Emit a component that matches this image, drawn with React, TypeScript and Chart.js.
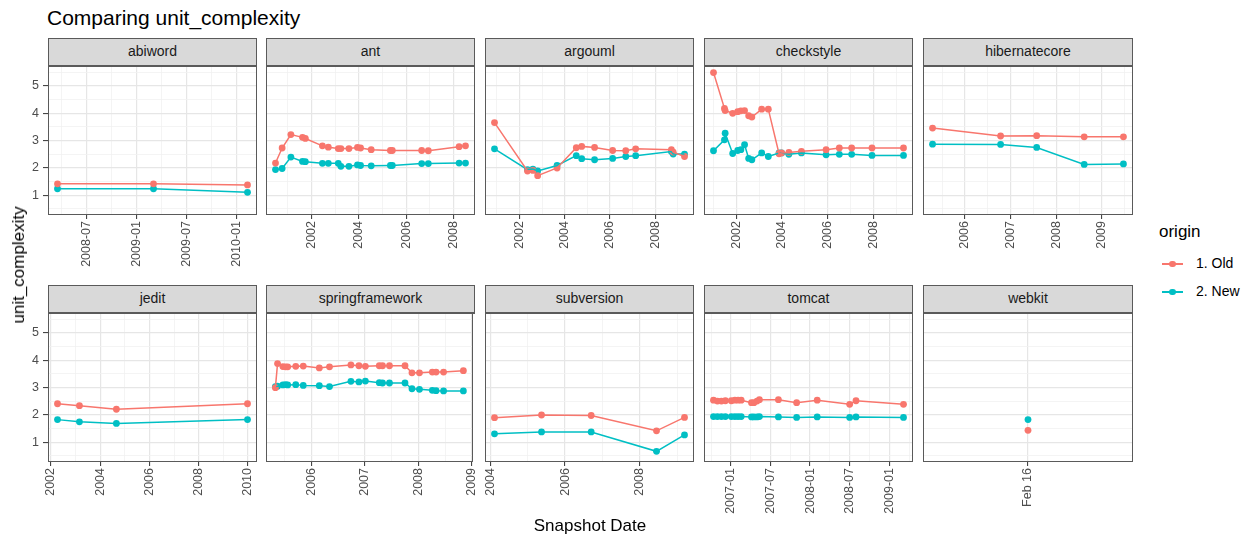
import React, { useEffect, useRef } from "react";
import { Chart, registerables } from "chart.js";

Chart.register(...registerables);

const FONT = '"Liberation Sans", Arial, Helvetica, sans-serif';
const RED = "#F8766D";
const TEAL = "#00BFC4";

// ---------- data (dates as decimal years) ----------
const projects = ["abiword", "ant", "argouml", "checkstyle", "hibernatecore", "jedit", "springframework", "subversion", "tomcat", "webkit"];
const seriesNames = ["1. Old", "2. New"];

const abiwordDates = [2008.21, 2009.17, 2010.11];
const abiwordOld = [1.42, 1.42, 1.38];
const abiwordNew = [1.24, 1.24, 1.11];
const abiwordTicks = ["2008-07", "2009-01", "2009-07", "2010-01"];

const antDates = [2000.48, 2000.76, 2001.13, 2001.62, 2001.74, 2002.46, 2002.71, 2003.13, 2003.24, 2003.58, 2003.94, 2004.07, 2004.52, 2005.33, 2005.41, 2006.65, 2006.93, 2008.23, 2008.5];
const antOld = [2.18, 2.73, 3.22, 3.12, 3.08, 2.81, 2.76, 2.71, 2.71, 2.71, 2.75, 2.73, 2.67, 2.64, 2.64, 2.64, 2.63, 2.78, 2.81];
const antNew = [1.94, 1.98, 2.4, 2.24, 2.23, 2.17, 2.17, 2.17, 2.06, 2.06, 2.11, 2.09, 2.08, 2.09, 2.09, 2.16, 2.16, 2.18, 2.18];
const antTicks = ["2002", "2004", "2006", "2008"];

const argoumlDates = [2000.89, 2002.35, 2002.59, 2002.8, 2003.66, 2004.51, 2004.75, 2005.32, 2006.12, 2006.7, 2007.14, 2008.72, 2008.8, 2009.3];
const argoumlOld = [3.66, 1.89, 1.91, 1.72, 2.0, 2.74, 2.79, 2.75, 2.64, 2.63, 2.7, 2.67, 2.58, 2.42];
const argoumlNew = [2.7, 1.94, 1.96, 1.89, 2.09, 2.45, 2.34, 2.3, 2.35, 2.42, 2.45, 2.6, 2.51, 2.51];
const argoumlTicks = ["2002", "2004", "2006", "2008"];

const checkstyleDates = [2001.0, 2001.48, 2001.51, 2001.84, 2002.06, 2002.2, 2002.36, 2002.54, 2002.68, 2003.11, 2003.4, 2003.87, 2003.98, 2004.3, 2004.85, 2005.93, 2006.51, 2007.05, 2007.94, 2009.32];
const checkstyleOld = [5.49, 4.18, 4.1, 4.0, 4.06, 4.09, 4.1, 3.91, 3.86, 4.15, 4.15, 2.52, 2.55, 2.57, 2.61, 2.67, 2.73, 2.73, 2.73, 2.73];
const checkstyleNew = [2.63, 3.03, 3.27, 2.53, 2.64, 2.67, 2.85, 2.35, 2.3, 2.55, 2.42, 2.55, 2.55, 2.5, 2.55, 2.48, 2.5, 2.5, 2.46, 2.46];
const checkstyleTicks = ["2002", "2004", "2006", "2008"];

const hibernateDates = [2005.29, 2006.78, 2007.57, 2008.61, 2009.47];
const hibernateOld = [3.46, 3.17, 3.18, 3.14, 3.14];
const hibernateNew = [2.87, 2.86, 2.75, 2.13, 2.15];
const hibernateTicks = ["2006", "2007", "2008", "2009"];

const jeditDates = [2002.27, 2003.16, 2004.66, 2009.98];
const jeditOld = [2.41, 2.34, 2.21, 2.41];
const jeditNew = [1.83, 1.75, 1.69, 1.83];
const jeditTicks = ["2002", "2004", "2006", "2008", "2010"];

const springDates = [2005.33, 2005.37, 2005.47, 2005.52, 2005.56, 2005.71, 2005.85, 2006.15, 2006.34, 2006.74, 2006.89, 2007.01, 2007.27, 2007.33, 2007.46, 2007.75, 2007.88, 2008.02, 2008.26, 2008.33, 2008.47, 2008.84];
const springOld = [3.0, 3.88, 3.77, 3.76, 3.76, 3.78, 3.79, 3.72, 3.76, 3.83, 3.8, 3.78, 3.8, 3.8, 3.8, 3.8, 3.54, 3.54, 3.57, 3.57, 3.57, 3.62];
const springNew = [3.04, 3.05, 3.1, 3.11, 3.1, 3.11, 3.08, 3.07, 3.04, 3.23, 3.21, 3.24, 3.18, 3.17, 3.17, 3.17, 2.96, 2.94, 2.9, 2.89, 2.88, 2.88];
const springTicks = ["2006", "2007", "2008", "2009"];

const subversionDates = [2004.11, 2005.37, 2006.7, 2008.45, 2009.2];
const subversionOld = [1.9, 2.0, 1.98, 1.42, 1.91];
const subversionNew = [1.31, 1.38, 1.38, 0.67, 1.27];
const subversionTicks = ["2004", "2006", "2008"];

const tomcatDates = [2006.78, 2006.83, 2006.88, 2006.93, 2007.005, 2007.05, 2007.09, 2007.13, 2007.26, 2007.29, 2007.33, 2007.36, 2007.6, 2007.83, 2008.09, 2008.5, 2008.58, 2009.18];
const tomcatOld = [2.54, 2.51, 2.51, 2.52, 2.52, 2.54, 2.54, 2.54, 2.45, 2.45, 2.51, 2.56, 2.56, 2.45, 2.54, 2.39, 2.52, 2.39];
const tomcatNew = [1.94, 1.94, 1.94, 1.94, 1.94, 1.94, 1.94, 1.94, 1.93, 1.93, 1.93, 1.94, 1.93, 1.91, 1.93, 1.91, 1.93, 1.91];
const tomcatTicks = ["2007-01", "2007-07", "2008-01", "2008-07", "2009-01"];

const webkitDates = [2010.125];
const webkitOld = [1.44];
const webkitNew = [1.83];
const webkitTicks = ["Feb 16"];

const yMajorTicks = [1, 2, 3, 4, 5];
const Y_MIN = 0.28;
const Y_MAX = 5.73;

// ---------- layout ----------
const PANEL_LEFT = [48, 266, 485, 704, 923];
const PANEL_W = [209, 209, 209, 209, 210];
const STRIP_TOP = [38, 285];
const PLOT_TOP = [66, 313];
const PLOT_H = 149;
const PAD_L = 40;
const PAD_R = 14;
const PAD_T = 14;
const X_AXIS_H = 62;
const TICK_FONT = 12.5;

type PanelDef = { name: string; dates: number[]; oldV: number[]; newV: number[]; ticks: string[] };

const panelDefs: PanelDef[] = [
  { name: projects[0], dates: abiwordDates, oldV: abiwordOld, newV: abiwordNew, ticks: abiwordTicks },
  { name: projects[1], dates: antDates, oldV: antOld, newV: antNew, ticks: antTicks },
  { name: projects[2], dates: argoumlDates, oldV: argoumlOld, newV: argoumlNew, ticks: argoumlTicks },
  { name: projects[3], dates: checkstyleDates, oldV: checkstyleOld, newV: checkstyleNew, ticks: checkstyleTicks },
  { name: projects[4], dates: hibernateDates, oldV: hibernateOld, newV: hibernateNew, ticks: hibernateTicks },
  { name: projects[5], dates: jeditDates, oldV: jeditOld, newV: jeditNew, ticks: jeditTicks },
  { name: projects[6], dates: springDates, oldV: springOld, newV: springNew, ticks: springTicks },
  { name: projects[7], dates: subversionDates, oldV: subversionOld, newV: subversionNew, ticks: subversionTicks },
  { name: projects[8], dates: tomcatDates, oldV: tomcatOld, newV: tomcatNew, ticks: tomcatTicks },
  { name: projects[9], dates: webkitDates, oldV: webkitOld, newV: webkitNew, ticks: webkitTicks },
];

function tickValue(label: string, p: PanelDef): number {
  const m = /^(\d{4})(?:-(\d{2}))?$/.exec(label);
  if (m) return +m[1] + (m[2] ? (+m[2] - 1) / 12 : 0);
  return p.dates[0];
}

function xRange(p: PanelDef): [number, number] {
  const lo = Math.min(...p.dates);
  const hi = Math.max(...p.dates);
  if (hi - lo < 1e-9) return [lo - 0.1, hi + 0.1];
  const e = (hi - lo) * 0.05;
  return [lo - e, hi + e];
}

function buildXTicks(p: PanelDef, min: number, max: number) {
  const majors = p.ticks.map((l) => ({ value: tickValue(l, p), lbl: l, minor: false }));
  const minors: { value: number; lbl: string; minor: boolean }[] = [];
  if (majors.length > 1) {
    const step = majors[1].value - majors[0].value;
    let v = majors[0].value - step / 2;
    while (v - step >= min) v -= step;
    for (; v <= max + 1e-9; v += step) if (v >= min) minors.push({ value: v, lbl: "", minor: true });
  }
  return [...majors, ...minors].sort((a, b) => a.value - b.value);
}

const borderPlugin = {
  id: "panelBorder",
  afterDraw(chart: any) {
    const { ctx, chartArea: a } = chart;
    ctx.save();
    ctx.strokeStyle = "#5a5a5a";
    ctx.lineWidth = 1;
    ctx.strokeRect(Math.round(a.left) + 0.5, Math.round(a.top) + 0.5, Math.round(a.right - a.left) - 1, Math.round(a.bottom - a.top) - 1);
    ctx.restore();
  },
};

const gridColor = (ctx: any) => (ctx.tick && ctx.tick.minor ? "#F1F1F1" : "#E6E6E6");
const gridWidth = (ctx: any) => (ctx.tick && ctx.tick.minor ? 0.8 : 1.2);
const tickCol = (ctx: any) => (ctx.tick && ctx.tick.minor ? "rgba(0,0,0,0)" : "#333333");

function PanelChart({ p, col, row }: { p: PanelDef; col: number; row: number }) {
  const ref = useRef<HTMLCanvasElement>(null);
  const width = PAD_L + PANEL_W[col] + PAD_R;
  const height = PAD_T + PLOT_H + X_AXIS_H;
  useEffect(() => {
    const [min, max] = xRange(p);
    const xt = buildXTicks(p, min, max);
    const yt: { value: number; minor: boolean }[] = [];
    for (let v = 0.5; v <= 5.5 + 1e-9; v += 0.5) yt.push({ value: v, minor: !yMajorTicks.includes(v) });
    const pts = (vals: number[]) => p.dates.map((d, i) => ({ x: d, y: vals[i] }));
    const lineDs = (label: string, vals: number[], c: string) => ({
      label, data: pts(vals), borderColor: c, backgroundColor: c, borderWidth: 1.5, pointRadius: 0, tension: 0, showLine: true,
    });
    const pointDs = (label: string, vals: number[], c: string) => ({
      label, data: pts(vals), borderColor: c, backgroundColor: c, pointBackgroundColor: c, pointBorderWidth: 0, pointRadius: 3.4, showLine: false,
    });
    const chart = new Chart(ref.current as HTMLCanvasElement, {
      type: "line",
      data: {
        datasets: [
          lineDs(seriesNames[0], p.oldV, RED),
          lineDs(seriesNames[1], p.newV, TEAL),
          pointDs(seriesNames[0], p.oldV, RED),
          pointDs(seriesNames[1], p.newV, TEAL),
        ] as any,
      },
      options: {
        animation: false,
        responsive: false,
        maintainAspectRatio: false,
        events: [],
        layout: { padding: { left: col === 0 ? 0 : PAD_L, right: PAD_R, top: PAD_T, bottom: 0 } },
        plugins: { legend: { display: false }, tooltip: { enabled: false }, title: { display: false } },
        scales: {
          x: {
            type: "linear",
            min, max,
            bounds: "data",
            afterBuildTicks: (s: any) => { s.ticks = xt.map((t) => ({ ...t })); },
            afterFit: (s: any) => { s.height = X_AXIS_H; },
            ticks: {
              autoSkip: false, minRotation: 90, maxRotation: 90, padding: 2, color: "#4D4D4D",
              font: { family: FONT, size: TICK_FONT },
              callback: (_v: any, i: number, ticks: any[]) => ticks[i].lbl || "",
            },
            grid: { color: gridColor, lineWidth: gridWidth, tickLength: 4, tickColor: tickCol, tickWidth: 1 },
            border: { display: false },
          },
          y: {
            type: "linear",
            position: "left",
            min: Y_MIN, max: Y_MAX,
            bounds: "data",
            afterBuildTicks: (s: any) => { s.ticks = yt.map((t) => ({ ...t })); },
            afterFit: (s: any) => { s.width = col === 0 ? PAD_L : 0; },
            ticks: {
              display: col === 0, autoSkip: false, padding: 4, color: "#4D4D4D",
              font: { family: FONT, size: TICK_FONT },
              callback: (v: any, i: number, ticks: any[]) => (ticks[i].minor ? "" : String(v)),
            },
            grid: { color: gridColor, lineWidth: gridWidth, drawTicks: col === 0, tickLength: 5, tickColor: tickCol, tickWidth: 1 },
            border: { display: false },
          },
        },
      } as any,
      plugins: [borderPlugin],
    });
    return () => chart.destroy();
  }, []);
  return (
    <canvas
      ref={ref}
      width={width}
      height={height}
      style={{ position: "absolute", left: PANEL_LEFT[col] - PAD_L, top: PLOT_TOP[row] - PAD_T, width, height }}
    />
  );
}

function Strip({ name, col, row }: { name: string; col: number; row: number }) {
  return (
    <div
      style={{
        position: "absolute", left: PANEL_LEFT[col], top: STRIP_TOP[row], width: PANEL_W[col], height: PLOT_TOP[row] - STRIP_TOP[row] + 1,
        boxSizing: "border-box", background: "#D9D9D9", border: "1px solid #5a5a5a", borderBottomWidth: 2,
        font: `14px ${FONT}`, color: "#1A1A1A", textAlign: "center", lineHeight: "25px",
      }}
    >
      {name}
    </div>
  );
}

function LegendKey({ color, label, y }: { color: string; label: string; y: number }) {
  return (
    <>
      <div style={{ position: "absolute", left: 1162, top: y - 0.75, width: 21, height: 1.5, background: color }} />
      <div style={{ position: "absolute", left: 1172.5 - 3.4, top: y - 3.4, width: 6.8, height: 6.8, borderRadius: "50%", background: color }} />
      <div style={{ position: "absolute", left: 1196, top: y - 9, height: 18, lineHeight: "18px", font: `14px ${FONT}`, color: "#000" }}>{label}</div>
    </>
  );
}

export default function App() {
  return (
    <div style={{ position: "absolute", left: 0, top: 0, width: 1253, height: 546, background: "#fff", overflow: "hidden", fontFamily: FONT }}>
      <div style={{ position: "absolute", left: 47, top: 6, font: `21px ${FONT}`, lineHeight: "24px", color: "#000", whiteSpace: "nowrap" }}>
        Comparing unit_complexity
      </div>
      {panelDefs.map((p, i) => (
        <Strip key={"s" + p.name} name={p.name} col={i % 5} row={Math.floor(i / 5)} />
      ))}
      {panelDefs.map((p, i) => (
        <PanelChart key={"c" + p.name} p={p} col={i % 5} row={Math.floor(i / 5)} />
      ))}
      <div style={{ position: "absolute", left: 590, top: 516, transform: "translateX(-50%)", font: `17px ${FONT}`, lineHeight: "20px", color: "#000", whiteSpace: "nowrap" }}>
        Snapshot Date
      </div>
      <div
        style={{
          position: "absolute", left: 19, top: 265, transform: "translate(-50%, -50%) rotate(-90deg)",
          font: `17px ${FONT}`, lineHeight: "20px", color: "#000", whiteSpace: "nowrap",
        }}
      >
        unit_complexity
      </div>
      <div style={{ position: "absolute", left: 1159, top: 222, font: `17px ${FONT}`, lineHeight: "20px", color: "#000" }}>origin</div>
      <LegendKey color={RED} label={seriesNames[0]} y={264} />
      <LegendKey color={TEAL} label={seriesNames[1]} y={292} />
    </div>
  );
}
